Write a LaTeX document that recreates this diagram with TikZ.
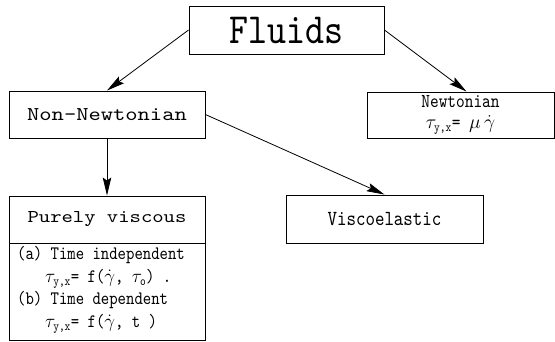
\RequirePackage{fix-cm}
\documentclass[tikz,border=0pt]{standalone}
\usepackage{fontspec}
\newfontfamily\wmono{lmmono10-regular.otf}[FakeStretch=1.2]
\newfontfamily\nmono{lmmono10-regular.otf}[FakeStretch=0.84]
\usetikzlibrary{arrows.meta}
\newcommand\subtx[1]{_{\mbox{\fontsize{13}{13}\nmono #1}}}
\begin{document}
\begin{tikzpicture}[x=1pt,y=-1pt,
  box/.style={draw, line width=0.9pt, inner sep=0pt, align=center},
  arr/.style={line width=0.8pt, -{Stealth[length=18pt,width=8.5pt,inset=3pt]}}]
\useasboundingbox (0,0) rectangle (555,341);
\node[box, minimum width=195pt, minimum height=48pt, font=\nmono\fontsize{43}{44}\selectfont] (fl) at (286.5,30) {Fluids};
\node[box, minimum width=196pt, minimum height=47pt, font=\wmono\fontsize{19.5}{22}\selectfont] (nn) at (107,114.5) {Non-Newtonian};
\node[box, minimum width=187pt, minimum height=46pt, font=\nmono\fontsize{19.7}{21}\selectfont] (nt) at (460.5,115) {Newtonian\\$\tau\subtx{y,x}$= $\mu\,\dot\gamma$};
\node[box, minimum width=196pt, minimum height=47pt, font=\wmono\fontsize{18}{20}\selectfont] (pv) at (107,219.5) {Purely viscous};
\node[box, minimum width=196pt, minimum height=97pt, anchor=north west] (pvb) at (9,243) {};
\node[anchor=north west, inner sep=0pt, align=left, font=\nmono\fontsize{19}{22.8}\selectfont] (pvt) at (17,246) {(a) Time independent\\\hspace*{28pt}$\tau\subtx{y,x}$= f($\dot\gamma$, $\tau\subtx{o}$) .\\(b) Time dependent\\\hspace*{28pt}$\tau\subtx{y,x}$= f($\dot\gamma$, t )};
\node[box, minimum width=197pt, minimum height=48pt, font=\nmono\fontsize{21.5}{22}\selectfont] (ve) at (384.5,219) {Viscoelastic};
\draw[arr] (fl.west) -- (nn.north);
\draw[arr] (fl.east) -- ([xshift=6pt]nt.north);
\draw[arr] (nn.east) -- (ve.north);
\draw[arr] (nn.south) -- (pv.north);
\end{tikzpicture}
\end{document}
